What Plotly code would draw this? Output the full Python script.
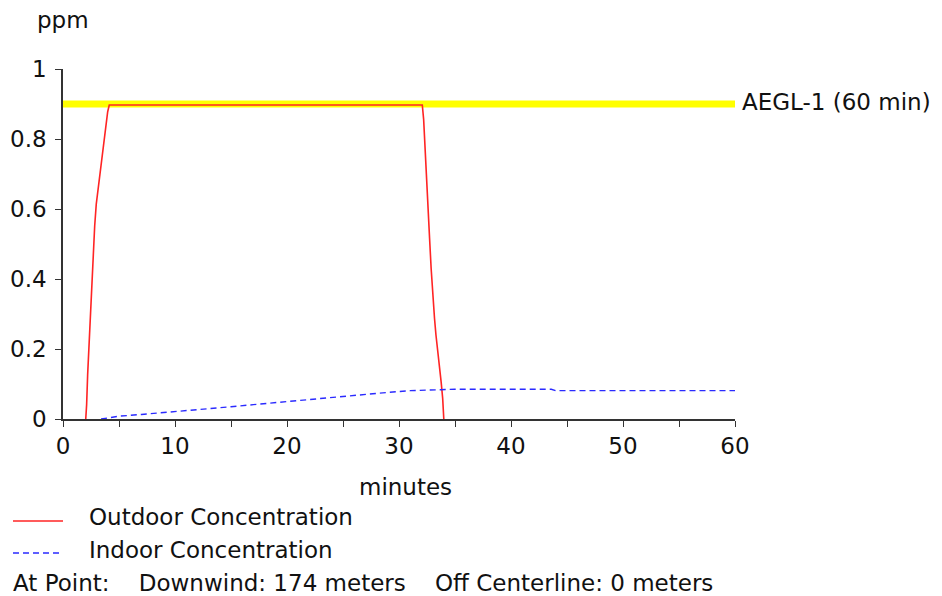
import plotly.graph_objects as go

# Time (minutes) and concentration (ppm) series
outdoor_t = [2.03, 2.11, 2.2, 2.32, 2.44, 2.56, 2.71, 2.83, 2.97, 3.1, 3.24, 3.36, 3.54, 3.69,
             3.84, 3.99, 4.13, 32.08, 32.2, 32.32, 32.45, 32.6, 32.73, 32.87, 33.02, 33.17,
             33.3, 33.46, 33.6, 33.76, 33.9, 34.0]
outdoor_ppm = [0.0, 0.041, 0.126, 0.211, 0.297, 0.383, 0.469, 0.552, 0.614, 0.649, 0.689, 0.726,
               0.766, 0.802, 0.84, 0.878, 0.897, 0.897, 0.856, 0.769, 0.686, 0.602, 0.516,
               0.43, 0.345, 0.288, 0.24, 0.197, 0.151, 0.107, 0.059, 0.0]

indoor_t = [3.4, 5, 7, 9, 11, 13, 15, 17, 19, 21, 23, 25, 27, 29, 31, 33, 35, 43.6, 44, 60]
indoor_ppm = [0.0, 0.008, 0.013, 0.018, 0.024, 0.030, 0.035, 0.041, 0.047, 0.053, 0.060,
              0.065, 0.070, 0.076, 0.081, 0.084, 0.085, 0.085, 0.081, 0.081]

aegl_t = [0, 60]
aegl_ppm = [0.9, 0.9]
aegl_label = "AEGL-1 (60 min)"

series_names = ["Outdoor Concentration", "Indoor Concentration"]
location_note = ("At Point:&nbsp;&nbsp;&nbsp;&nbsp;Downwind: 174 meters"
                 "&nbsp;&nbsp;&nbsp;&nbsp;Off Centerline: 0 meters")

x_ticks = list(range(0, 61, 5))
x_ticklabels = [str(v) if v % 10 == 0 else "" for v in x_ticks]
y_ticks = [0, 0.2, 0.4, 0.6, 0.8, 1]
y_ticklabels = ["0", "0.2", "0.4", "0.6", "0.8", "1"]

FONT = "DejaVu Sans, Verdana, sans-serif"
FS = 23
TXT = "#111"
RED = "#ff2424"
BLUE = "#2b2bff"
BLUE_DASH = "6px,4px"

fig = go.Figure()
fig.add_trace(go.Scatter(x=aegl_t, y=aegl_ppm, mode="lines", showlegend=False,
                         line=dict(color="#ffff00", width=7), hoverinfo="skip"))
fig.add_trace(go.Scatter(x=outdoor_t, y=outdoor_ppm, mode="lines", name=series_names[0],
                         showlegend=False, line=dict(color=RED, width=1.6)))
fig.add_trace(go.Scatter(x=indoor_t, y=indoor_ppm, mode="lines", name=series_names[1],
                         showlegend=False, line=dict(color=BLUE, width=1.4, dash=BLUE_DASH)))

# Threshold label at the right end of the AEGL line
fig.add_annotation(x=aegl_t[-1], y=aegl_ppm[-1], text=aegl_label, showarrow=False,
                   xanchor="left", yanchor="middle", xshift=5, yshift=2,
                   font=dict(family=FONT, size=FS, color=TXT))
# Axis titles
fig.add_annotation(x=0, y=1.14, xref="paper", yref="paper", text="ppm", showarrow=False,
                   xanchor="center", yanchor="middle", font=dict(family=FONT, size=FS, color=TXT))
fig.add_annotation(x=0.5104, y=-0.194, xref="paper", yref="paper", text="minutes", showarrow=False,
                   xanchor="center", yanchor="middle", font=dict(family=FONT, size=FS, color=TXT))

# Legend block below the plot
leg_rows = [(-0.2914, -0.28, RED, "solid"), (-0.383, -0.374, BLUE, BLUE_DASH)]
for (ly, ty, col, dash), name in zip(leg_rows, series_names):
    fig.add_shape(type="line", xref="paper", yref="paper", x0=-0.0744, x1=0.0, y0=ly, y1=ly,
                  line=dict(color=col, width=1.6, dash=dash))
    fig.add_annotation(x=0.035, y=ty, xref="paper", yref="paper", text=name, showarrow=False,
                       xanchor="left", yanchor="middle", font=dict(family=FONT, size=FS, color=TXT))
fig.add_annotation(x=-0.077, y=-0.4686, xref="paper", yref="paper", text=location_note,
                   showarrow=False, xanchor="left", yanchor="middle",
                   font=dict(family=FONT, size=FS, color=TXT))

axis_style = dict(ticks="outside", ticklen=6, tickcolor="#333", showline=True, linecolor="#333",
                  linewidth=1.5, showgrid=False, zeroline=False, automargin=False,
                  tickfont=dict(family=FONT, size=FS, color=TXT))
fig.update_xaxes(range=[0, 60], tickvals=x_ticks, ticktext=x_ticklabels, **axis_style)
fig.update_yaxes(range=[0, 1], tickvals=y_ticks, ticktext=y_ticklabels, ticklabelstandoff=4,
                 **axis_style)

fig.update_layout(
    width=942, height=596,
    margin=dict(l=63, r=207, t=69, b=177),
    paper_bgcolor="white", plot_bgcolor="white",
    showlegend=False,
)

fig.write_html("out.html")
